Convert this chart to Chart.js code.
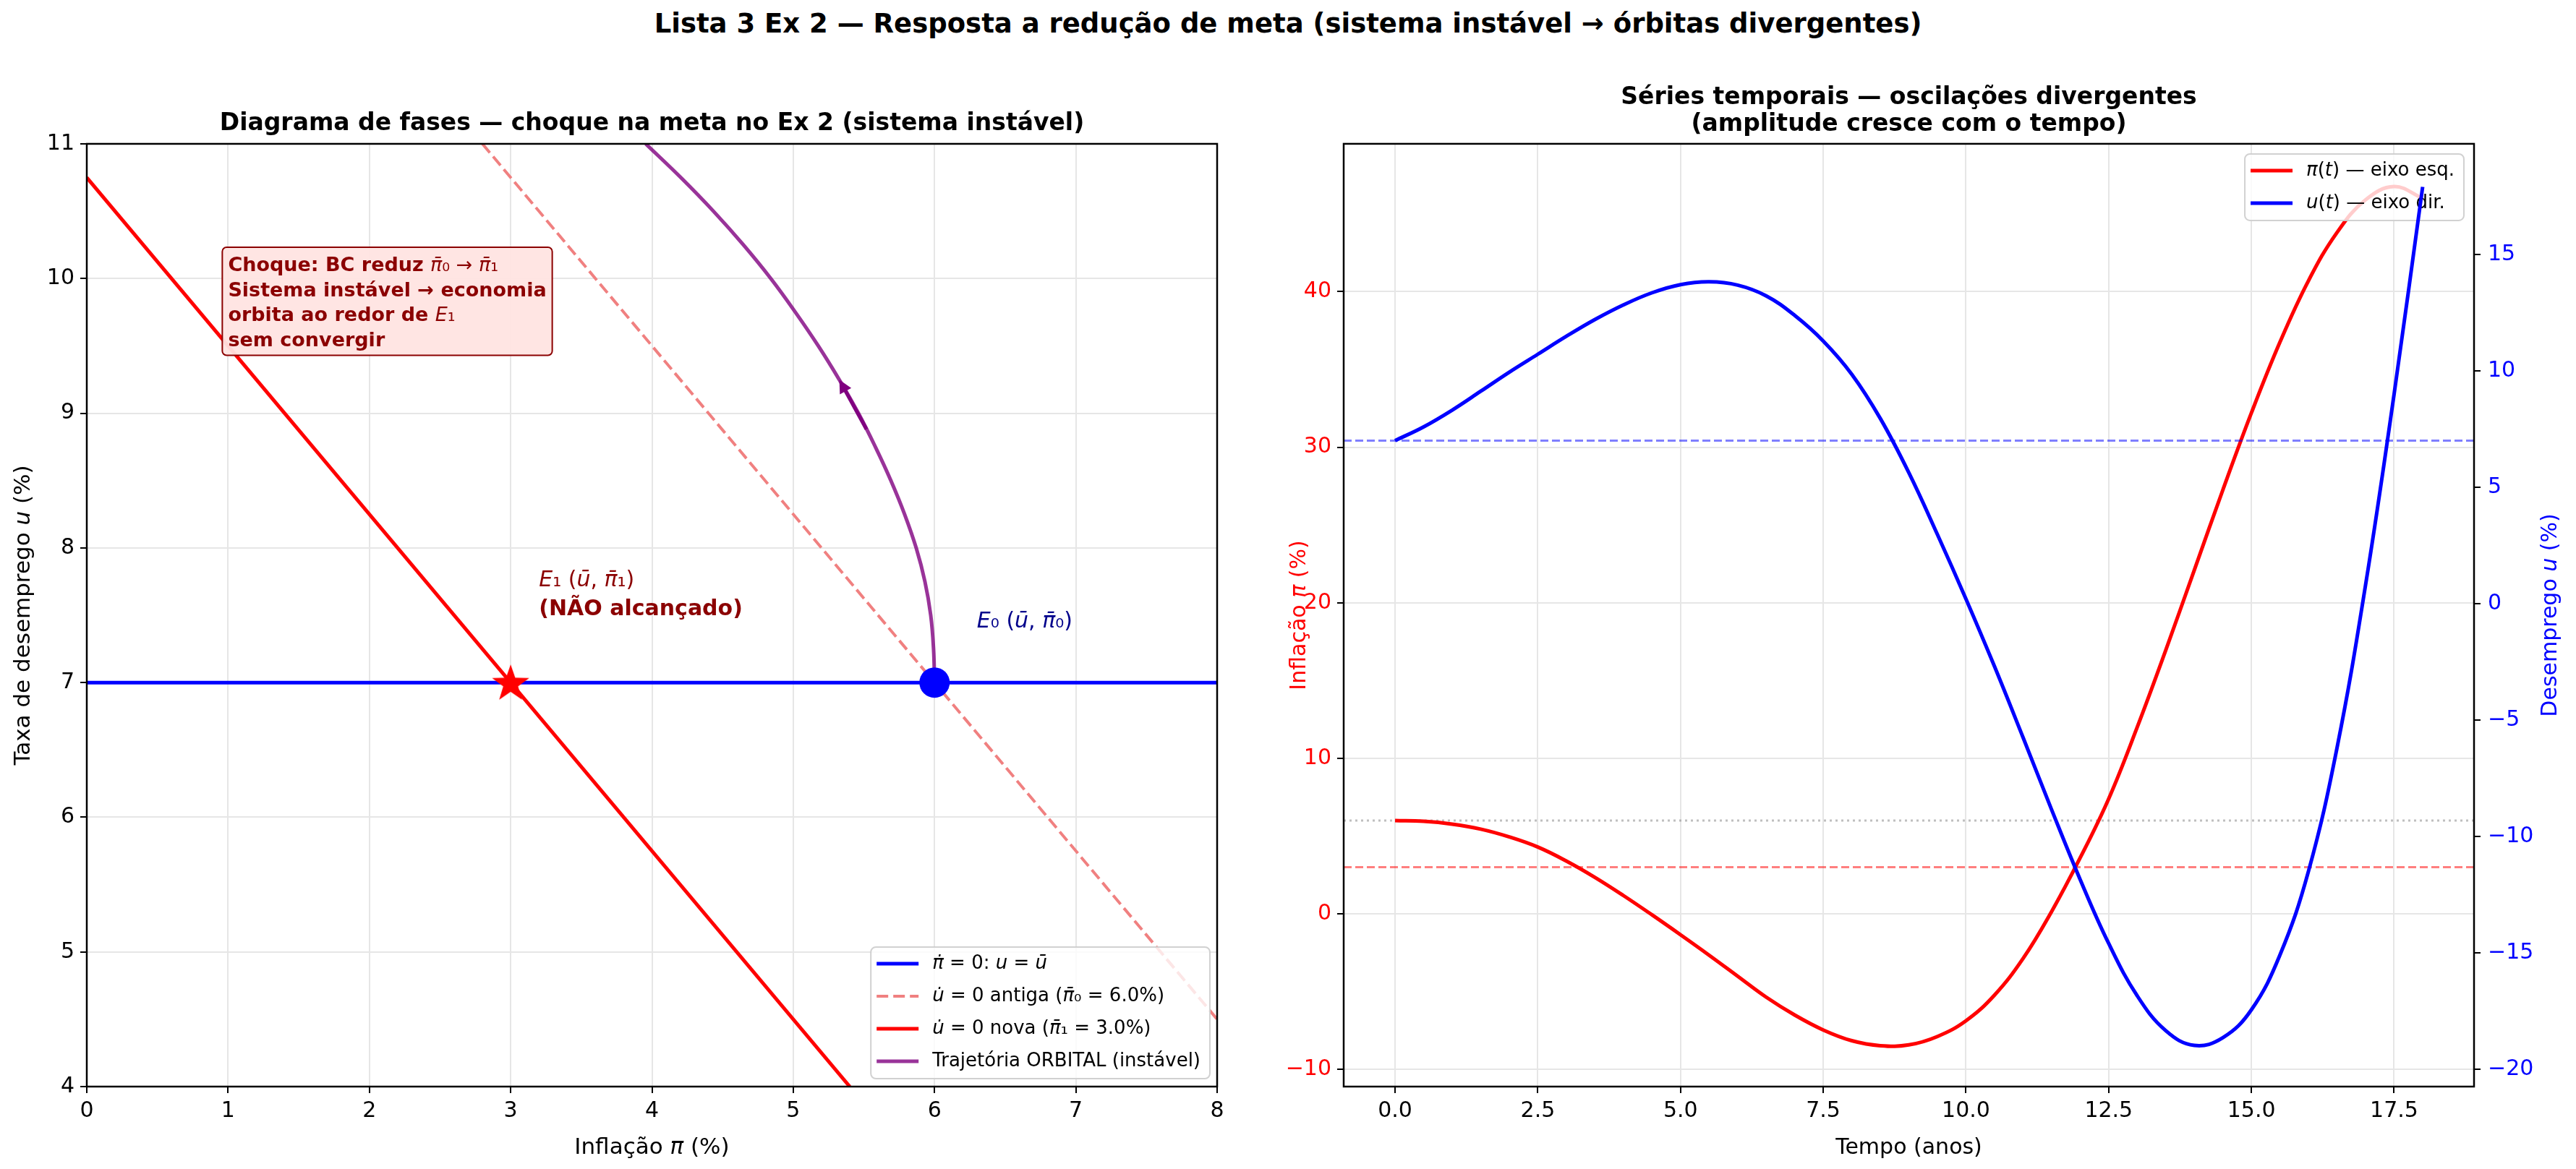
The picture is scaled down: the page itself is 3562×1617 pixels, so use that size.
<!DOCTYPE html>
<html>
<head>
<meta charset="utf-8">
<script src="https://cdn.jsdelivr.net/npm/chart.js@4.4.1/dist/chart.umd.min.js"></script>
<style>
  html, body { margin: 0; padding: 0; background: #fff; }
  body { width: 3562px; height: 1617px; position: relative; overflow: hidden; }
  #sup { position: absolute; left: 0; top: 11px; width: 3562px; text-align: center;
         font: bold 37px "DejaVu Sans"; color: #000; }
  #wl { position: absolute; left: 0; top: 0; width: 1720px; height: 1617px; }
  #wr { position: absolute; left: 1740px; top: 0; width: 1822px; height: 1617px; }
</style>
</head>
<body>
<div id="sup">Lista 3 Ex 2 — Resposta a redução de meta (sistema instável → órbitas divergentes)</div>
<div id="wl"><canvas id="chartPhase"></canvas></div>
<div id="wr"><canvas id="chartSeries"></canvas></div>
<script>
// ── Data: phase diagram (left) ───────────────────────────
const PI_TICKS = [0, 1, 2, 3, 4, 5, 6, 7, 8];
const U_TICKS = [4, 5, 6, 7, 8, 9, 10, 11];
const U_BAR = 7;
const PI0_BAR = 6.0;
const PI1_BAR = 3.0;
const HLINE_PI = [0, 8];
const OLD_NULL_PI = [2.8, 8.0];
const OLD_NULL_U = [11.0, 4.5];
const NEW_NULL_PI = [0.0, 5.4];
const NEW_NULL_U = [10.75, 4.0];
const TRAJ_PI = [6.0, 5.993, 5.973, 5.932, 5.87, 5.788, 5.691, 5.581, 5.461,
                 5.325, 5.177, 5.015, 4.841, 4.647, 4.435, 4.204, 3.956];
const TRAJ_U = [7.0, 7.25, 7.5, 7.75, 8.0, 8.25, 8.5, 8.75, 9.0,
                9.25, 9.5, 9.75, 10.0, 10.25, 10.5, 10.75, 11.0];
const ARROW_PI = [5.518, 5.326];
const ARROW_U = [8.881, 9.248];

// ── Data: time series (right) ────────────────────────────
const T = [0, 0.5, 1, 1.5, 2, 2.5, 3, 3.5, 4, 4.5, 5, 5.5, 6, 6.5, 7, 7.5, 8, 8.5, 9,
           9.5, 10, 10.5, 11, 11.5, 12, 12.5, 13, 13.5, 14, 14.5, 15, 15.5, 16, 16.5, 17, 17.5, 18];
const PI_T = [6.0, 5.95, 5.77, 5.45, 4.95, 4.3, 3.4, 2.35, 1.18, -0.06, -1.34, -2.65, -4.0, -5.35, -6.5, -7.46, -8.15, -8.47, -8.42,
              -7.88, -6.87, -5.22, -2.87, 0.15, 3.6, 7.4, 12.0, 16.95, 22.1, 27.25, 32.2, 36.75, 40.7, 43.8, 45.9, 46.75, 46.0];
const U_T = [7.0, 7.59, 8.31, 9.12, 9.94, 10.71, 11.48, 12.2, 12.83, 13.35, 13.7, 13.82, 13.68, 13.22, 12.38, 11.28, 9.85, 7.95, 5.62,
             2.97, 0.2, -2.7, -5.75, -8.85, -11.85, -14.6, -16.85, -18.35, -18.98, -18.65, -17.45, -15.1, -11.5, -6.2, 0.8, 9.0, 17.9];
const T_TICKS = [0, 2.5, 5, 7.5, 10, 12.5, 15, 17.5];
const PI_AX_TICKS = [-10, 0, 10, 20, 30, 40];
const U_AX_TICKS = [-20, -15, -10, -5, 0, 5, 10, 15];
const T_RANGE = [-0.9, 18.9];

// ── helpers ──────────────────────────────────────────────
const FAMILY = '"DejaVu Sans"';
const pts = (xs, ys) => xs.map((x, i) => ({ x, y: ys[i] }));
const fmtInt = (v) => (v < 0 ? "\u2212" + Math.abs(v) : String(v));
const setTicks = (arr) => (s) => { s.ticks = arr.map((v) => ({ value: v })); };

function fnt(style, size) {
  const pre = style === "i" ? "italic " : style === "b" ? "bold " : "";
  return pre + size + "px " + FAMILY;
}
function richWidth(ctx, segs, size) {
  let w = 0;
  for (const [t, s] of segs) { ctx.font = fnt(s, size); w += ctx.measureText(t).width; }
  return w;
}
function richText(ctx, x, y, segs, size, color, align) {
  if (align === "center") x -= richWidth(ctx, segs, size) / 2;
  ctx.textBaseline = "middle";
  ctx.textAlign = "left";
  ctx.fillStyle = color;
  for (const [t, s] of segs) {
    ctx.font = fnt(s, size);
    ctx.fillText(t, x, y);
    x += ctx.measureText(t).width;
  }
}
function richVertical(ctx, cx, cy, segs, size, color) {
  ctx.save();
  ctx.translate(cx, cy);
  ctx.rotate(-Math.PI / 2);
  richText(ctx, 0, 0, segs, size, color, "center");
  ctx.restore();
}
function frame(chart) {
  const { ctx, chartArea: a } = chart;
  ctx.save();
  ctx.strokeStyle = "#000";
  ctx.lineWidth = 2.5;
  ctx.strokeRect(a.left, a.top, a.right - a.left, a.bottom - a.top);
  ctx.restore();
}
function drawLegend(ctx, right, top, bottom, items) {
  const size = 26, rowH = 45, padT = 23, padB = 24, handle = 58, gap = 19, padL = 8, padR = 13;
  let tw = 0;
  items.forEach((it) => { tw = Math.max(tw, richWidth(ctx, it.segs, size)); });
  const w = padL + handle + gap + tw + padR;
  const h = padT + rowH * (items.length - 1) + padB;
  const x0 = right - w;
  const y0 = top !== null ? top : bottom - h;
  ctx.save();
  ctx.beginPath();
  ctx.roundRect(x0, y0, w, h, 7);
  ctx.fillStyle = "rgba(255,255,255,0.8)";
  ctx.fill();
  ctx.strokeStyle = "rgba(204,204,204,0.9)";
  ctx.lineWidth = 2;
  ctx.stroke();
  items.forEach((it, i) => {
    const cy = y0 + padT + i * rowH;
    ctx.beginPath();
    ctx.setLineDash(it.dash || []);
    ctx.strokeStyle = it.color;
    ctx.lineWidth = it.width;
    ctx.moveTo(x0 + padL, cy);
    ctx.lineTo(x0 + padL + handle, cy);
    ctx.stroke();
    ctx.setLineDash([]);
    richText(ctx, x0 + padL + handle + gap, cy, it.segs, size, "#000");
  });
  ctx.restore();
}
function makeStar(r, color) {
  const c = document.createElement("canvas");
  c.width = c.height = 2 * r + 4;
  const g = c.getContext("2d");
  g.beginPath();
  for (let i = 0; i < 10; i++) {
    const rr = i % 2 ? r * 0.4 : r;
    const ang = -Math.PI / 2 + (i * Math.PI) / 5;
    g.lineTo(c.width / 2 + rr * Math.cos(ang), c.height / 2 + rr * Math.sin(ang) + 2);
  }
  g.closePath();
  g.fillStyle = color;
  g.fill();
  return c;
}

const tickFont = { family: "DejaVu Sans", size: 30 };
const gridBase = { color: "#e6e6e6", lineWidth: 2, tickColor: "#000", tickLength: 9, tickWidth: 2 };
const titleFont = { family: "DejaVu Sans", size: 33, weight: "bold", lineHeight: 1.12 };

// ── Left: phase diagram ──────────────────────────────────
const phaseDecor = {
  id: "phaseDecor",
  afterDatasetsDraw(chart) {
    const { ctx, scales: { x, y } } = chart;
    ctx.save();
    // direction arrow on the trajectory
    const x1 = x.getPixelForValue(ARROW_PI[0]), y1 = y.getPixelForValue(ARROW_U[0]);
    const x2 = x.getPixelForValue(ARROW_PI[1]), y2 = y.getPixelForValue(ARROW_U[1]);
    const ang = Math.atan2(y2 - y1, x2 - x1);
    ctx.strokeStyle = "#800080";
    ctx.fillStyle = "#800080";
    ctx.lineWidth = 5;
    ctx.beginPath();
    ctx.moveTo(x1, y1);
    ctx.lineTo(x2 - 10 * Math.cos(ang), y2 - 10 * Math.sin(ang));
    ctx.stroke();
    ctx.beginPath();
    ctx.moveTo(x2, y2);
    ctx.lineTo(x2 - 18 * Math.cos(ang) + 9 * Math.sin(ang), y2 - 18 * Math.sin(ang) - 9 * Math.cos(ang));
    ctx.lineTo(x2 - 18 * Math.cos(ang) - 9 * Math.sin(ang), y2 - 18 * Math.sin(ang) + 9 * Math.cos(ang));
    ctx.closePath();
    ctx.fill();

    // E1 label
    const ex = x.getPixelForValue(3.2), ey = y.getPixelForValue(7.5);
    richText(ctx, ex, ey - 48, [["E", "i"], ["₁", ""], [" (", ""], ["ū", "i"], [", ", ""], ["π̄", "i"], ["₁", ""], [")", ""]], 30, "#8B0000");
    richText(ctx, ex, ey - 8, [["(NÃO alcançado)", "b"]], 30, "#8B0000");
    // E0 label
    richText(ctx, x.getPixelForValue(6.3), y.getPixelForValue(7.45),
      [["E", "i"], ["₀", ""], [" (", ""], ["ū", "i"], [", ", ""], ["π̄", "i"], ["₀", ""], [")", ""]], 30, "#00008B");

    // shock annotation box
    const bx = x.getPixelForValue(1.0), by = y.getPixelForValue(10.2);
    const lines = [
      [["Choque: BC reduz ", "b"], ["π̄", "i"], ["₀", ""], [" → ", ""], ["π̄", "i"], ["₁", ""]],
      [["Sistema instável → economia", "b"]],
      [["orbita ao redor de ", "b"], ["E", "i"], ["₁", ""]],
      [["sem convergir", "b"]],
    ];
    let bw = 0;
    lines.forEach((l) => { bw = Math.max(bw, richWidth(ctx, l, 27)); });
    ctx.beginPath();
    ctx.roundRect(bx - 8, by - 6, bw + 16, 20 + 34.5 * 3 + 26, 6);
    ctx.fillStyle = "rgba(255,228,225,0.95)";
    ctx.fill();
    ctx.strokeStyle = "#8B0000";
    ctx.lineWidth = 2;
    ctx.stroke();
    lines.forEach((l, i) => richText(ctx, bx, by + 20 + 34.5 * i, l, 27, "#8B0000"));
    ctx.restore();
  },
  afterDraw(chart) {
    const { ctx, chartArea: a } = chart;
    frame(chart);
    drawLegend(ctx, a.right - 10, null, a.bottom - 11, [
      { segs: [["π̇", "i"], [" = 0: ", ""], ["u", "i"], [" = ", ""], ["ū", "i"]], color: "#0000FF", width: 5 },
      { segs: [["u̇", "i"], [" = 0 antiga (", ""], ["π̄", "i"], ["₀", ""], [" = 6.0%)", ""]], color: "#F08080", width: 4, dash: [16, 7] },
      { segs: [["u̇", "i"], [" = 0 nova (", ""], ["π̄", "i"], ["₁", ""], [" = 3.0%)", ""]], color: "#FF0000", width: 5 },
      { segs: [["Trajetória ORBITAL (instável)", ""]], color: "rgba(128,0,128,0.8)", width: 5 },
    ]);
    ctx.save();
    richText(ctx, (a.left + a.right) / 2, a.bottom + 85, [["Inflação ", ""], ["π", "i"], [" (%)", ""]], 31, "#000", "center");
    richVertical(ctx, a.left - 87, (a.top + a.bottom) / 2, [["Taxa de desemprego ", ""], ["u", "i"], [" (%)", ""]], 31, "#000");
    ctx.restore();
  },
};

new Chart(document.getElementById("chartPhase"), {
  type: "line",
  data: {
    datasets: [
      { data: pts(OLD_NULL_PI, OLD_NULL_U), borderColor: "#F08080", borderWidth: 4, borderDash: [16, 7], pointRadius: 0, order: 5 },
      { data: pts(NEW_NULL_PI, NEW_NULL_U), borderColor: "#FF0000", borderWidth: 5, pointRadius: 0, order: 4 },
      { data: pts(HLINE_PI, [U_BAR, U_BAR]), borderColor: "#0000FF", borderWidth: 5, pointRadius: 0, order: 3 },
      { data: pts(TRAJ_PI, TRAJ_U), borderColor: "rgba(128,0,128,0.8)", borderWidth: 5, pointRadius: 0, tension: 0.4, order: 2 },
      { data: [{ x: PI1_BAR, y: U_BAR }], showLine: false, pointStyle: makeStar(27, "#FF0000"), pointRadius: 27, order: 1 },
      { data: [{ x: PI0_BAR, y: U_BAR }], showLine: false, pointRadius: 21, pointBackgroundColor: "#0000FF", pointBorderWidth: 0, order: 0 },
    ],
  },
  options: {
    responsive: true,
    maintainAspectRatio: false,
    animation: false,
    devicePixelRatio: 1,
    events: [],
    layout: { padding: { right: 37 } },
    plugins: {
      legend: { display: false },
      tooltip: { enabled: false },
      title: {
        display: true,
        fullSize: false,
        text: "Diagrama de fases — choque na meta no Ex 2 (sistema instável)",
        color: "#000",
        font: titleFont,
        padding: { top: 153, bottom: 9 },
      },
    },
    scales: {
      x: {
        type: "linear", min: 0, max: 8,
        afterBuildTicks: setTicks(PI_TICKS),
        afterFit: (s) => { s.height = 114; },
        grid: gridBase, border: { display: false },
        ticks: { font: tickFont, color: "#000", padding: 7, maxRotation: 0, autoSkip: false, callback: (v) => fmtInt(v) },
      },
      y: {
        type: "linear", min: 4, max: 11,
        afterBuildTicks: setTicks(U_TICKS),
        afterFit: (s) => { s.width = 120; },
        grid: gridBase, border: { display: false },
        ticks: { font: tickFont, color: "#000", padding: 8, autoSkip: false, callback: (v) => fmtInt(v) },
      },
    },
  },
  plugins: [phaseDecor],
});

// ── Right: time series ───────────────────────────────────
const seriesDecor = {
  id: "seriesDecor",
  afterDatasetDraw(chart, args) {
    if (args.index !== 0) return;
    const { ctx, chartArea: a } = chart;
    drawLegend(ctx, a.right - 14, a.top + 14, null, [
      { segs: [["π", "i"], ["(", ""], ["t", "i"], [") — eixo esq.", ""]], color: "#FF0000", width: 5 },
      { segs: [["u", "i"], ["(", ""], ["t", "i"], [") — eixo dir.", ""]], color: "#0000FF", width: 5 },
    ]);
  },
  afterDraw(chart) {
    const { ctx, chartArea: a } = chart;
    frame(chart);
    ctx.save();
    richText(ctx, (a.left + a.right) / 2, a.bottom + 85, [["Tempo (anos)", ""]], 30, "#000", "center");
    richVertical(ctx, a.left - 61, (a.top + a.bottom) / 2, [["Inflação ", ""], ["π", "i"], [" (%)", ""]], 30, "#FF0000");
    richVertical(ctx, a.right + 106, (a.top + a.bottom) / 2, [["Desemprego ", ""], ["u", "i"], [" (%)", ""]], 30, "#0000FF");
    ctx.restore();
  },
};

new Chart(document.getElementById("chartSeries"), {
  type: "line",
  data: {
    datasets: [
      { data: pts(T, PI_T), borderColor: "#FF0000", borderWidth: 5, pointRadius: 0, tension: 0.4, yAxisID: "y", order: 3 },
      { data: pts(T, U_T), borderColor: "#0000FF", borderWidth: 5, pointRadius: 0, tension: 0.4, yAxisID: "y1", order: 1 },
      { data: pts(T_RANGE, [PI1_BAR, PI1_BAR]), borderColor: "rgba(255,0,0,0.5)", borderWidth: 3, borderDash: [11, 5], pointRadius: 0, yAxisID: "y", order: 4 },
      { data: pts(T_RANGE, [PI0_BAR, PI0_BAR]), borderColor: "rgba(128,128,128,0.5)", borderWidth: 3, borderDash: [3, 5], pointRadius: 0, yAxisID: "y", order: 4 },
      { data: pts(T_RANGE, [U_BAR, U_BAR]), borderColor: "rgba(0,0,255,0.5)", borderWidth: 3, borderDash: [11, 5], pointRadius: 0, yAxisID: "y1", order: 2 },
    ],
  },
  options: {
    responsive: true,
    maintainAspectRatio: false,
    animation: false,
    devicePixelRatio: 1,
    events: [],
    plugins: {
      legend: { display: false },
      tooltip: { enabled: false },
      title: {
        display: true,
        fullSize: false,
        text: ["Séries temporais — oscilações divergentes", "(amplitude cresce com o tempo)"],
        color: "#000",
        font: titleFont,
        padding: { top: 117, bottom: 8 },
      },
    },
    scales: {
      x: {
        type: "linear", min: T_RANGE[0], max: T_RANGE[1],
        afterBuildTicks: setTicks(T_TICKS),
        afterFit: (s) => { s.height = 114; },
        grid: gridBase, border: { display: false },
        ticks: { font: tickFont, color: "#000", padding: 7, maxRotation: 0, autoSkip: false, callback: (v) => v.toFixed(1) },
      },
      y: {
        type: "linear", position: "left", min: -11.1, max: 49.5,
        afterBuildTicks: setTicks(PI_AX_TICKS),
        afterFit: (s) => { s.width = 118; },
        grid: gridBase, border: { display: false },
        ticks: { font: tickFont, color: "#FF0000", padding: 8, autoSkip: false, callback: (v) => fmtInt(v) },
      },
      y1: {
        type: "linear", position: "right", min: -20.75, max: 19.75,
        afterBuildTicks: setTicks(U_AX_TICKS),
        afterFit: (s) => { s.width = 141; },
        grid: { ...gridBase, drawOnChartArea: false }, border: { display: false },
        ticks: { font: tickFont, color: "#0000FF", padding: 10, autoSkip: false, callback: (v) => fmtInt(v) },
      },
    },
  },
  plugins: [seriesDecor],
});
</script>
</body>
</html>
